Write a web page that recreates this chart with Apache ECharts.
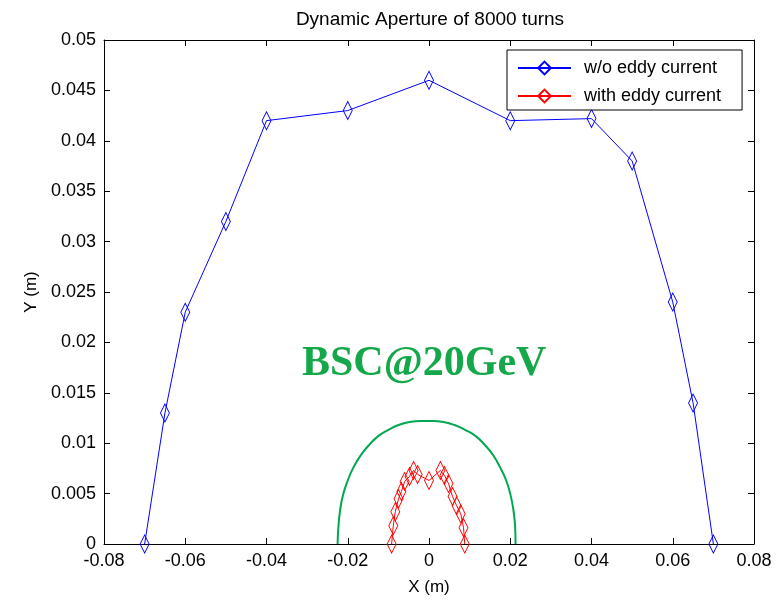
<!DOCTYPE html>
<html><head><meta charset="utf-8">
<script src="https://cdn.jsdelivr.net/npm/echarts@6/dist/echarts.min.js"></script>
<style>html,body{margin:0;padding:0;background:#fff}#c{width:780px;height:601px}</style>
</head><body><div id="c"></div>
<script>
// Data
const blueX = [-0.07, -0.065, -0.06, -0.05, -0.04, -0.02, 0, 0.02, 0.04, 0.05, 0.06, 0.065, 0.07];
const blueY = [0, 0.013, 0.023, 0.032, 0.042, 0.043, 0.046, 0.042, 0.0422, 0.038, 0.024, 0.014, 0];
const redX = [-0.0092, -0.0088, -0.0083, -0.0075, -0.0068, -0.0060, -0.0048, -0.0038, -0.0028, 0, 0.0028, 0.0038, 0.0048, 0.0058, 0.0068, 0.0078, 0.0085, 0.0088];
const redY = [0, 0.0018, 0.0032, 0.0045, 0.0052, 0.0062, 0.0067, 0.0073, 0.0069, 0.0063, 0.0073, 0.0068, 0.0060, 0.0047, 0.0038, 0.0030, 0.0016, 0];
const greenX = [-0.0225, -0.0223, -0.0219, -0.0212, -0.0200, -0.0186, -0.0168, -0.0148, -0.0125, -0.0101, -0.0075, -0.0048, -0.0020, 0.0008, 0.0036, 0.0063, 0.0090, 0.0115, 0.0138, 0.0158, 0.0175, 0.0190, 0.0201, 0.0208, 0.0212, 0.0213];
const greenY = [0, 0.0017, 0.0033, 0.0048, 0.0063, 0.0076, 0.0088, 0.0098, 0.0107, 0.0113, 0.0118, 0.0121, 0.0122, 0.0122, 0.0121, 0.0118, 0.0113, 0.0107, 0.0098, 0.0088, 0.0076, 0.0063, 0.0048, 0.0033, 0.0017, 0];
const xTicks = {min: -0.08, max: 0.08, step: 0.02};
const yTicks = {min: 0, max: 0.05, step: 0.005};
const names = ['w/o eddy current', 'with eddy current'];

const zip = (a, b) => a.map((v, i) => [v, b[i]]);
const fmt = v => String(+v.toFixed(4));
const font = 'Liberation Sans';
const axBase = {
  type: 'value', axisLine: {show: true, onZero: false, lineStyle: {color: '#000', width: 1}},
  axisTick: {show: true, inside: true, length: 6, lineStyle: {color: '#000'}},
  splitLine: {show: false}, nameTextStyle: {color: '#000', fontFamily: font, fontSize: 17},
  axisLabel: {color: '#000', fontFamily: font, fontSize: 18, formatter: fmt}
};
const chart = echarts.init(document.getElementById('c'));
chart.setOption({
  animation: false,
  backgroundColor: '#fff',
  title: {text: 'Dynamic Aperture of 8000 turns', left: 425, top: 5, textAlign: 'center',
    textStyle: {fontFamily: font, fontSize: 19, fontWeight: 'normal', color: '#000'}},
  grid: {left: 104, right: 26, top: 40, bottom: 54},
  legend: {data: names, left: 507, top: 50, orient: 'vertical', backgroundColor: '#fff',
    borderColor: '#000', borderWidth: 1, borderRadius: 0, padding: [9, 21, 5, 10], itemGap: 10,
    itemWidth: 53, itemHeight: 16,
    textStyle: {fontFamily: font, fontSize: 18, color: '#000', padding: [0, 0, 0, 8]}},
  xAxis: [
    Object.assign({}, axBase, {min: xTicks.min, max: xTicks.max, interval: xTicks.step, position: 'bottom',
      name: 'X (m)', nameLocation: 'middle', nameGap: 35}),
    Object.assign({}, axBase, {min: xTicks.min, max: xTicks.max, interval: xTicks.step, position: 'top',
      axisLabel: {show: false}})
  ],
  yAxis: [
    Object.assign({}, axBase, {min: yTicks.min, max: yTicks.max, interval: yTicks.step, position: 'left',
      name: 'Y (m)', nameLocation: 'middle', nameGap: 64, nameRotate: 90}),
    Object.assign({}, axBase, {min: yTicks.min, max: yTicks.max, interval: yTicks.step, position: 'right',
      axisLabel: {show: false}})
  ],
  series: [
    {name: names[0], type: 'line', data: zip(blueX, blueY), symbol: 'diamond', symbolSize: [9, 18],
      itemStyle: {color: 'rgba(255,255,255,0)', borderColor: '#0000ff', borderWidth: 1},
      lineStyle: {color: '#0000ff', width: 1}, z: 3},
    {name: names[1], type: 'line', data: zip(redX, redY), symbol: 'diamond', symbolSize: [9, 18],
      itemStyle: {color: 'rgba(255,255,255,0)', borderColor: '#ff0000', borderWidth: 1},
      lineStyle: {color: '#ff0000', width: 1}, z: 3},
    {name: 'boundary', type: 'line', data: zip(greenX, greenY), symbol: 'none', smooth: true,
      lineStyle: {color: '#00a84f', width: 2}, z: 2}
  ],
  graphic: [{type: 'text', left: 302, top: 343,
    style: {text: 'BSC@20GeV', fontFamily: 'Liberation Serif', fontWeight: 'bold', fontSize: 42, fill: '#14a84a'}}]
});
</script></body></html>
